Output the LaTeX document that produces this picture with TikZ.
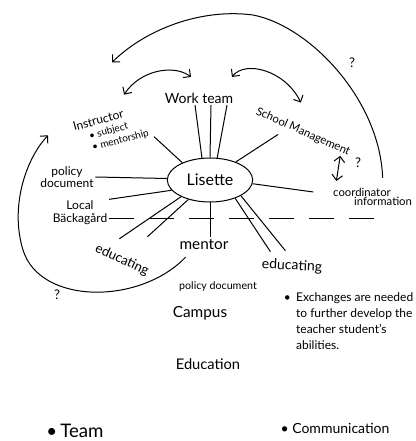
\documentclass[tikz,border=0pt]{standalone}
\usepackage{fontspec}
\setmainfont{Lato}
\usetikzlibrary{shapes.geometric,arrows.meta,calc}

\tikzset{every picture/.style={line width=0.75pt}}
\tikzset{txt/.style={inner sep=1pt, align=center},
  harrow/.style={-{Straight Barb[length=4pt,width=8pt]}},
  hdouble/.style={{Straight Barb[length=4pt,width=8pt]}-{Straight Barb[length=4pt,width=8pt]}},
  dashline/.style={dash pattern=on 19pt off 11pt}}
\newcommand{\fs}[1]{\fontsize{#1}{#1}\selectfont}

\begin{document}
\begin{tikzpicture}[x=0.75pt,y=0.75pt,yscale=-1,xscale=1]
%set diagram left start at 0, and has size of 416 x 441
\path[use as bounding box] (0,0) rectangle (416,441);

% Shape: Ellipse
\node (lisette) at (210,180) [draw, ellipse, minimum width=64pt, minimum height=33pt, inner sep=0pt, font=\fs{12}] {Lisette};

% Text Node
\node (work) at (199,98) [txt, font=\fs{10.5}] {Work team};
% Text Node
\node (instr) at (111,130) [txt, rotate=15, align=left, font=\fontsize{7.5}{9}\selectfont] {{\fontsize{9}{9}\selectfont Instructor}\\ \hspace{1.3em}\textbullet\ subject\\ \hspace{1.3em}\textbullet\ mentorship};
% Text Node
\node (sm) at (303,132) [txt, rotate=-24, font=\fs{8.5}] {School Management};
% Text Node
\node (coord) at (362,192) [txt, font=\fs{8.5}] {coordinator};
% Text Node
\node (info) at (383,201) [txt, font=\fs{8.5}] {information};
% Text Node
\node (policy) at (67,177) [txt, font=\fontsize{9}{9.5}\selectfont, align=center] {policy\\document};
% Text Node
\node (local) at (80,213) [txt, font=\fontsize{9}{9.5}\selectfont, align=center] {Local\\Bäckagård};
% Text Node
\node (educl) at (122,260) [txt, rotate=-25, font=\fs{10}] {educating};
% Text Node
\node (mentor) at (204,244) [txt, font=\fs{11.5}] {mentor};
% Text Node
\node (educr) at (292,266) [txt, rotate=-3, font=\fs{10.5}] {educating};
% Text Node
\node (policydoc) at (218,286) [txt, font=\fs{8}] {policy document};
% Text Node
\node (campus) at (200,313) [txt, font=\fs{11.5}] {Campus};
% Text Node
\node (exch) at (282,288) [anchor=north west, inner sep=1pt, font=\fontsize{9}{12}\selectfont] {\begin{tabular}{@{}l@{\hspace{4pt}}l@{}}
\textbullet & Exchanges are needed\\
 & to further develop the\\
 & teacher student's\\
 & abilities.
\end{tabular}};
% Text Node
\node (edu) at (208,364) [txt, font=\fs{11}] {Education};
% Text Node
\node (team) at (75,431) [txt, font=\fs{14}] {\textbullet\,Team};
% Text Node
\node (comm) at (335,428) [txt, font=\fs{10.5}] {\textbullet\ Communication};
% Text Node
\node (qtop) at (352,63) [txt, font=\fs{10}] {?};
% Text Node
\node (qright) at (358,163) [txt, font=\fs{10}] {?};
% Text Node
\node (qleft) at (57,295) [txt, font=\fs{10}] {?};

% Straight Lines
\draw ($(work.south)+(-4,0)$) -- (lisette.110);
\draw ($(work.south)+(12,0)$) -- (lisette.90);
\draw ($(work.south)+(28,0)$) -- (lisette.72);
\draw ($(instr.south east)+(2,-2)$) -- (lisette.148);
\draw ($(sm.south)+(-22,-4)$) -- (lisette.35);
\draw (lisette.-5) -- ($(coord.west)+(-18,0)$);
\draw (policy.east) -- (lisette.178);
\draw (local.north east) -- (lisette.195);
\draw (lisette.210) -- ($(educl.north)+(-6,-14)$);
\draw (lisette.222) -- ($(educl.north)+(22,-16)$);
\draw (lisette.south) -- (lisette.south |- mentor.north);
\draw (lisette.-36) -- ($(educr.north)+(-22,-6)$);
\draw (lisette.-27) -- ($(educr.north)+(-7,-7)$);
\draw [dashline] ($(local.east)+(0,5)$) -- ($(info.west)+(28,17)$);

% Curve Lines
\draw [hdouble] ($(instr.north)+(18,-17)$) .. controls (140,70) and (174,64) .. ($(work.north west)+(28,-14)$);
\draw [hdouble] ($(work.north east)+(-3,-14)$) .. controls (245,60) and (285,70) .. ($(sm.north)+(-5,-23)$);
\draw [hdouble] ($(sm.south east)+(-8,-4)$) -- ($(coord.north west)+(5,-5)$);
\draw [harrow] ($(coord.north east)+(-10,-8)$) .. controls (380,100) and (310,26) .. (253,15) .. controls (200,8) and (145,30) .. ($(policy.north)+(45,-102)$);
\draw [harrow] ($(mentor.south west)+(8,6)$) .. controls (140,305) and (40,305) .. (23,250) .. controls (10,208) and (25,160) .. ($(policy.north)+(-19,-29)$);

\end{tikzpicture}
\end{document}
